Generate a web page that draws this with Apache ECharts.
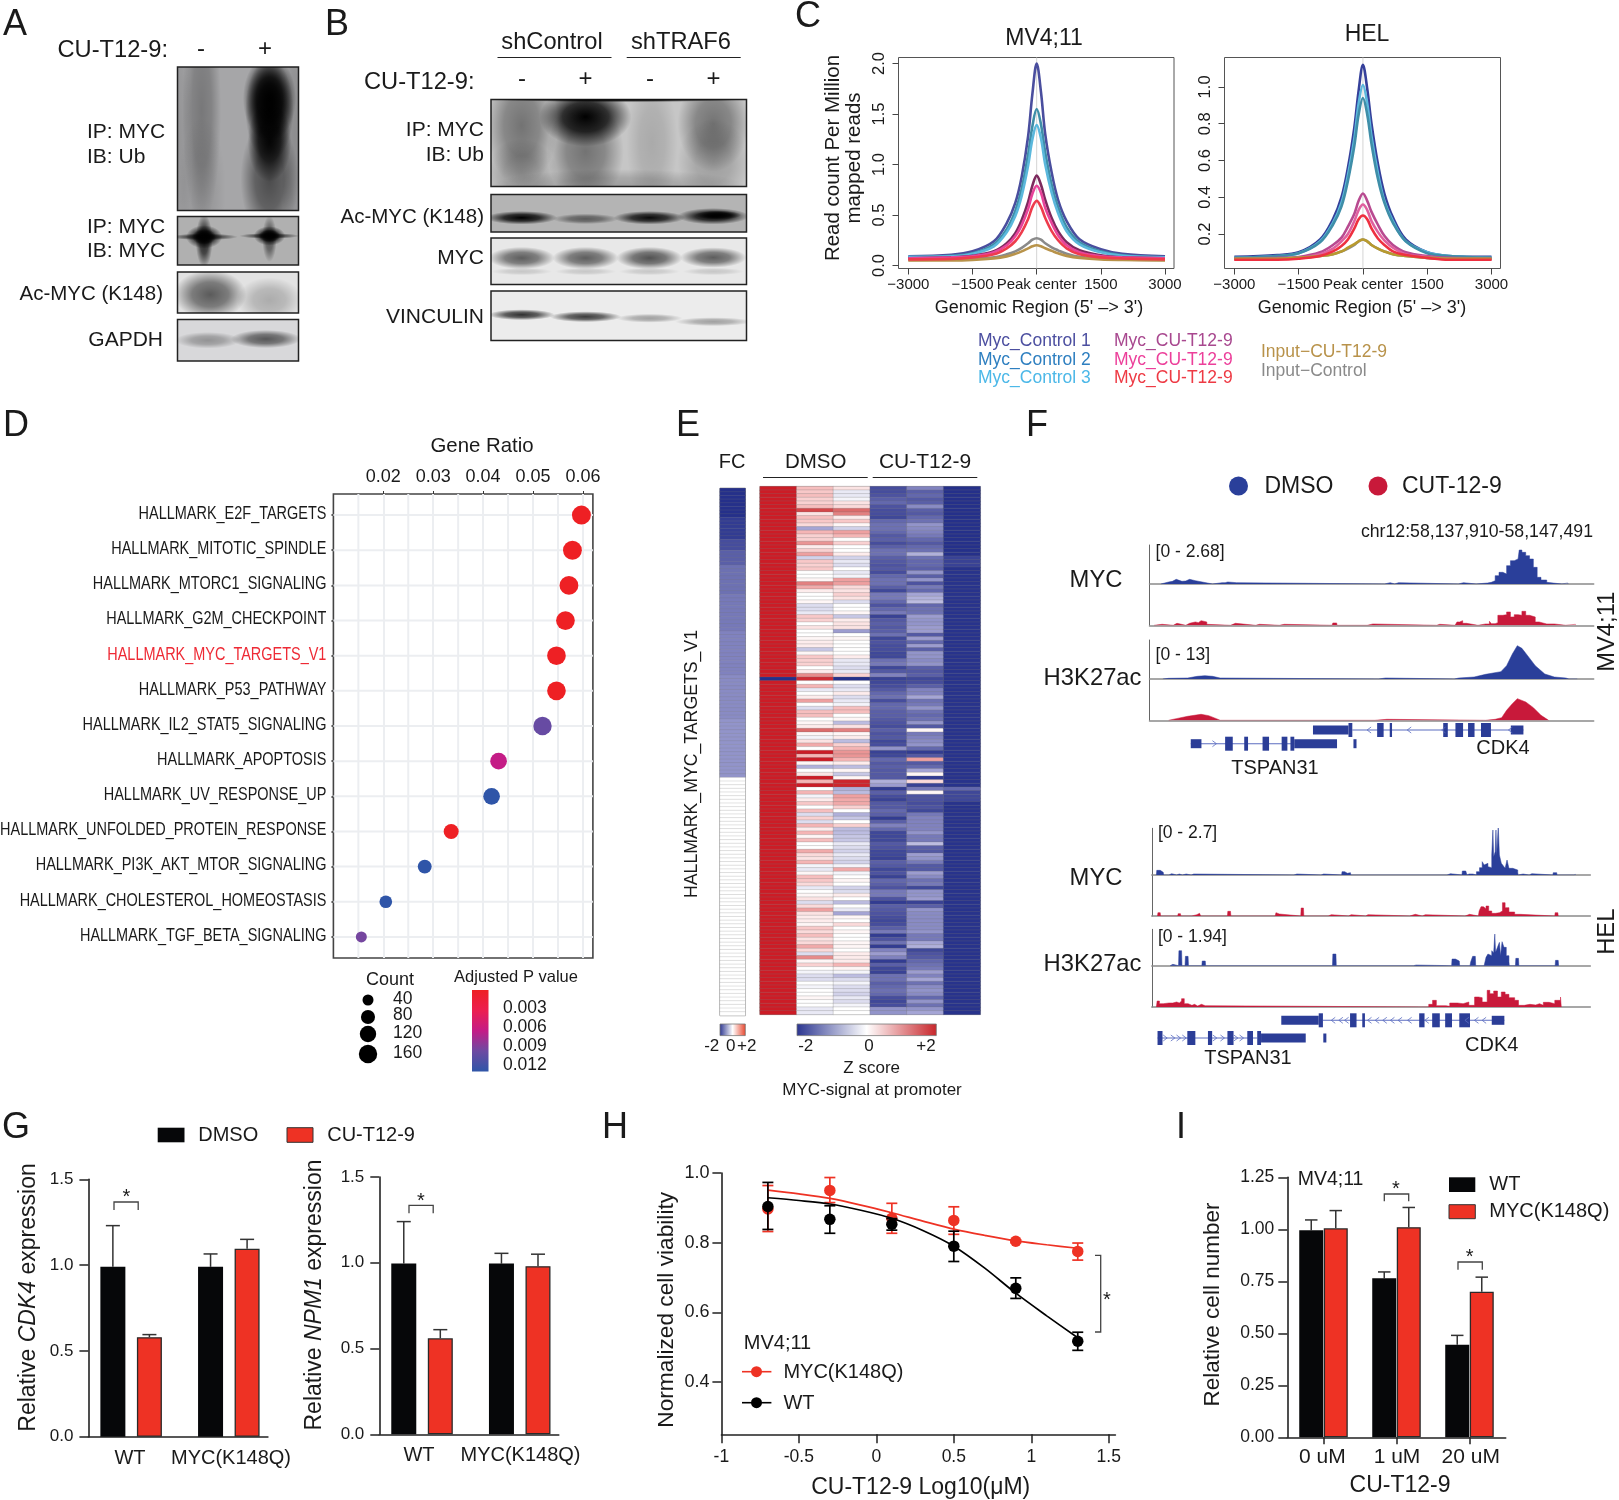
<!DOCTYPE html>
<html><head><meta charset="utf-8">
<style>html,body{margin:0;padding:0;background:#fff}#c{width:1619px;height:1500px}</style>
<script src="https://cdn.jsdelivr.net/npm/echarts@6/dist/echarts.min.js"></script>
</head><body><div id="c"></div>
<script>
/* ---------- data ---------- */
// A / B blots: band = [laneCentre, yCentre, rx, ry, darkness] (fractions of blot)
const blotA1=[[.2,.3,.16,.8,.28],[.2,.85,.2,.5,.1],[.76,.22,.22,.3,1],[.76,.3,.2,.36,1],[.76,.52,.18,.28,.9],[.76,.78,.24,.42,.55],[.97,.5,.12,.9,.15],[.02,.5,.1,.9,.1]];
const blotA2=[[.22,.42,.28,.07,.75],[.22,.5,.07,.55,.8],[.22,.42,.15,.24,1],[.22,.42,.1,.16,1],[.76,.4,.25,.06,.7],[.76,.46,.06,.48,.55],[.76,.4,.13,.2,1],[.76,.4,.09,.13,1]];
const blotA3=[[.27,.55,.3,.6,.6],[.76,.68,.27,.55,.24]];
const blotA4=[[.25,.5,.27,.2,.32],[.73,.47,.29,.22,.6]];
const blotB1=[[.12,.3,.14,.7,.42],[.37,.2,.18,.34,1],[.37,.6,.15,.6,.42],[.63,.5,.1,.8,.14],[.87,.28,.14,.55,.42],[.87,.72,.14,.5,.2],[.12,.85,.14,.4,.22],[.5,1,.5,.2,.2],[.5,0,.5,.03,1]];
const blotB2=[[.12,.62,.14,.18,1],[.37,.65,.13,.14,.5],[.62,.62,.14,.18,.95],[.87,.58,.14,.22,1],[.89,.55,.09,.12,1]];
const blotB3=[[.12,.43,.13,.24,.6],[.37,.43,.13,.24,.6],[.62,.43,.13,.24,.65],[.87,.42,.13,.22,.6],[.12,.72,.12,.08,.14],[.37,.72,.12,.08,.14],[.62,.72,.12,.08,.14],[.87,.72,.12,.08,.14]];
const blotB4=[[.12,.48,.13,.11,.8],[.37,.52,.14,.11,.75],[.62,.55,.13,.09,.32],[.87,.62,.15,.09,.32]];

// C: read-count profiles
const profileX=[-3000,-2000,-1500,-1000,-700,-500,-350,-200,-100,0,100,200,350,500,700,1000,1500,2000,3000];
const mvCtrl1=[.09,.105,.14,.24,.42,.62,.88,1.28,1.7,2.0,1.72,1.3,.92,.65,.44,.26,.16,.115,.09];
const mvCtrl2=[.08,.095,.12,.21,.36,.54,.76,1.1,1.38,1.55,1.4,1.12,.8,.58,.38,.23,.14,.1,.08];
const mvCtrl3=[.085,.09,.115,.19,.33,.49,.69,.99,1.25,1.39,1.26,1.0,.72,.52,.34,.21,.13,.095,.08];
const mvCu1=[.07,.08,.095,.14,.22,.32,.45,.63,.79,.89,.8,.65,.47,.34,.23,.15,.1,.08,.07];
const mvCu2=[.07,.08,.09,.13,.2,.29,.4,.56,.71,.79,.72,.57,.42,.3,.2,.13,.09,.08,.07];
const mvCu3=[.06,.065,.08,.11,.17,.24,.33,.46,.58,.64,.58,.47,.34,.25,.17,.11,.08,.07,.06];
const mvInC=[.055,.06,.065,.08,.11,.14,.175,.22,.255,.27,.255,.22,.18,.15,.115,.085,.07,.06,.055];
const mvInCu=[.05,.05,.055,.07,.09,.115,.14,.17,.19,.2,.19,.17,.145,.12,.095,.075,.06,.055,.05];
const helCtrl1=[.075,.085,.1,.17,.28,.4,.56,.78,.98,1.12,.99,.8,.58,.42,.29,.17,.1,.08,.075];
const helCtrl2=[.07,.08,.095,.155,.25,.35,.49,.68,.85,.94,.85,.69,.5,.37,.26,.16,.095,.08,.07];
const helCtrl3=[.07,.08,.095,.16,.26,.37,.52,.72,.91,1.01,.91,.73,.53,.38,.27,.16,.1,.08,.07];
const helCu1=[.065,.07,.075,.1,.14,.18,.24,.31,.38,.42,.38,.32,.25,.19,.14,.1,.08,.07,.065];
const helCu2=[.06,.065,.07,.09,.12,.16,.2,.27,.33,.36,.33,.27,.21,.165,.125,.09,.075,.065,.06];
const helCu3=[.06,.06,.065,.08,.105,.135,.17,.23,.28,.30,.28,.23,.175,.14,.105,.085,.07,.06,.06];
const helInC=[.065,.065,.07,.08,.09,.105,.12,.14,.16,.17,.16,.14,.12,.105,.09,.08,.07,.065,.065];
const helInCu=[.065,.065,.07,.08,.09,.105,.125,.145,.16,.17,.16,.14,.12,.105,.09,.08,.07,.065,.065];

// D: gene-set dot plot
const hallmarks=['HALLMARK_E2F_TARGETS','HALLMARK_MITOTIC_SPINDLE','HALLMARK_MTORC1_SIGNALING','HALLMARK_G2M_CHECKPOINT','HALLMARK_MYC_TARGETS_V1','HALLMARK_P53_PATHWAY','HALLMARK_IL2_STAT5_SIGNALING','HALLMARK_APOPTOSIS','HALLMARK_UV_RESPONSE_UP','HALLMARK_UNFOLDED_PROTEIN_RESPONSE','HALLMARK_PI3K_AKT_MTOR_SIGNALING','HALLMARK_CHOLESTEROL_HOMEOSTASIS','HALLMARK_TGF_BETA_SIGNALING'];
const geneRatio=[.0597,.0579,.0572,.0565,.0547,.0547,.0519,.0431,.0417,.0336,.0283,.0205,.0156];
const geneCount=[172,170,168,166,165,165,160,125,125,95,78,60,40];
const adjP=[.001,.001,.001,.001,.001,.001,.0095,.0065,.012,.001,.012,.012,.009];
const ratioMinorLines=[.015,.025,.035,.045,.055];

// E: heat map (z score) rows top to bottom; runs = [value, rows]
const fcRuns=[[-2.4,8],[-2.2,6],[-1.9,3],[-1.6,4],[-1.4,8],[-1.3,10],[-1.2,12],[-1.1,12],[-1,16],[0,65]];
const dmso1Runs=[[2.4,52],[-2.4,1],[2.4,91]];
const dmso2=[.7,.6,.7,.5,.5,.7,1.9,.3,.7,.6,.4,-.8,.8,.5,.5,1.1,.2,.5,1.0,-.4,.6,.5,.6,0,0,.1,1.3,.9,.2,0,0,.1,-.3,-.3,-.2,.6,.5,0,.3,0,0,.1,.2,.2,-.5,.1,.6,.5,.5,
0,.2,1.2,2.2,0,.8,-.2,0,.2,1.0,0,-.3,.7,.7,0,.1,.2,1.5,.1,-.1,.3,.9,0,2.4,.8,2.4,.1,-.7,0,.3,2.4,.8,2.4,0,.8,-.1,.2,.6,0,.7,-.3,.5,-.3,.8,.2,.8,.1,.7,
0,0,.9,.4,.3,.8,-.1,-.2,.1,.7,.6,.4,-.2,0,.1,.3,-.3,.4,1,.3,.2,.2,.1,.6,.4,.7,.3,.4,.9,.4,-.3,1.2,.1,.5,0,-.1,-.3,-.3,0,-.1,0,0,.1,0,0,-.2,-.2];
const dmso3=[.3,-.2,-.2,-.1,.3,.4,1.5,1.3,.2,.6,.1,-.4,1.0,.8,0,.5,0,0,.2,-.4,-.2,-.3,0,-.2,-.1,1.0,1.0,.4,.3,.5,.3,-.3,0,0,.1,-.5,.2,.3,.3,-.9,0,.1,0,0,0,0,.2,-.2,-.2,
-.3,-.2,.5,-2.4,0,-.3,-.2,.2,-.3,-.2,-.1,.7,.7,0,.1,-.6,.3,1.3,.1,.2,-.6,.5,.8,1.1,1.1,.8,.2,-.6,.1,-.5,.1,2.3,2.3,-.7,-.6,1,.9,.9,.5,0,-.7,-.5,0,.5,-.6,-.6,-.5,-.5,
-.2,-.3,-.4,-.2,-.3,-.4,-.1,.9,-.1,0,.1,0,-.4,-.3,.2,0,-.6,0,-.2,-.8,.1,0,.4,0,.1,0,0,.1,.1,0,.2,.2,.2,.8,.1,-.1,-.6,-.3,-.1,-.3,-.3,-.4,-.2,-.3,-.1,0,0];
const cu1=[-1.9,-1.9,-1.8,-1.6,-1.5,-1.8,-1.9,-1.9,-2,-1.5,-1.4,-1.4,-1.5,-1.7,-1.6,-1.9,-1.6,-1.4,-1.4,-1.6,-1.7,-1.8,-1.7,-1.9,-1.5,-1.4,-1.4,-1.6,-2,-1.3,-1.3,-1.5,-1.8,-1.5,-1.3,-2.1,-1.7,-1.6,-1.7,-1.6,-1.4,-2,-1.8,-1.9,-1.9,-2,-2,-1.4,-1.3,
-2,-1.7,-1.2,-2.1,-2,-1.9,-1.7,-1.5,-1.4,-1.9,-1.5,-1.5,-1.6,-1.6,-1.7,-1.8,-1.9,-1.6,-1.8,-1.7,-2,-1.9,-1,-2.1,-2,-1.5,-1.7,-1.6,-1.7,-1.7,-1.7,-.7,-.9,-2.2,-1.6,-1.9,-2.1,-1.7,-1.7,-1.5,-1.6,-2.2,-1.6,-1.2,-1.5,-2,-2,-2,
-1.7,-1.8,-2,-2,-2.1,-1.6,-1.7,-2,-1.8,-2.1,-1.5,-1.6,-1.8,-1.3,-1.3,-1.8,-2.2,-1.6,-1.7,-1.8,-1.9,-2,-1.9,-1.6,-1.3,-2.2,-1.8,-1.4,-2.2,-1.2,-.9,-1.2,-2.2,-1.6,-2,-2.1,-1.4,-1.4,-1.6,-1.5,-1.4,-1.5,-1.9,-2,-1.9,-1,-1];
const cu2=[-1.2,-1.6,-1.5,-1.7,-1.6,-1.1,-1.6,-1.7,-1.5,-1.4,-1,-1.1,-1.2,-1.3,-1.5,-1.7,-1.5,-1.4,-.7,-1.4,-1.5,-1.5,-1.6,-1,-1.6,-1,-1.8,-1.3,-1.5,-.8,-.7,-.6,-1.5,-1.4,-1.4,-.9,-1,-1,-.9,-.9,-1.7,-.9,-1.5,-.9,-1.6,-1,-1,-1.1,-1,
-1.6,-1.7,-1.6,-2,-1.9,-1.6,-1.2,-1.2,-.8,-1.4,-1.3,-1,-1.4,-1.5,-1.4,-1,-1.7,.1,-1.3,-1.2,-1.1,-1,-1.5,-2.2,-1.7,1,-1.7,-1.5,-.8,.1,-2.2,.4,-2.1,-1.3,.1,-1.8,-1.8,-1.9,-1.8,-2,-1.3,-1.2,-1.2,-1.2,-1.2,-1,-1.3,-1.3,
-.6,-1.6,-1.7,-.9,-1,-1.3,-1.7,-1.7,-.9,-1.1,-1.4,-1.3,-2,-1,-1,-.9,-2.1,-1.6,-1,-1.1,-1.1,-1.1,-1.1,-1.1,-1,-1.3,-1.3,-.8,-.7,-2,-1.8,-1.7,-1.5,-1.4,-1.3,-.9,-1.2,-.8,-1.4,-1.1,-1,-1.1,-1.5,-1,-1.4,-1,-.8];
const cu3Runs=[[-2.4,19],[-2.1,3],[-2.35,60],[-1.5,1],[-2.0,3],[-2.35,58]];

// F: browser tracks, [bin, signal] (MV4;11 bins span 0..1163, HEL 0..1148)
const mvMycDmso=[[30,0],[32,6],[50,8],[60,14],[70,8],[85,9],[95,14],[105,10],[120,6],[138,4],[139,0],[165,0],[166,4],[190,4],[198,6],[205,4],[228,4],[229,0],[616,0],[617,4],[630,4],[631,0],[642,0],[643,4],[652,4],[653,0],[809,0],[810,4],[822,4],[823,0],[855,0],[856,3],[885,5],[895,10],[905,25],[915,35],[925,30],[935,55],[945,70],[955,75],[965,70],[968,102],[975,95],[985,85],[995,75],[1005,50],[1015,20],[1025,12],[1040,5],[1041,0],[1080,0],[1081,3],[1095,3],[1096,0]];
const mvMycCu=[[12,0],[13,3],[33,3],[34,0],[62,0],[65,6],[72,4],[73,0],[95,0],[97,6],[105,5],[110,10],[120,8],[128,14],[135,10],[150,3],[151,0],[212,0],[214,6],[225,4],[226,0],[278,0],[279,3],[288,0],[340,0],[341,3],[353,0],[478,0],[480,7],[490,5],[491,0],[570,0],[572,4],[585,0],[752,0],[753,3],[760,0],[800,0],[805,10],[812,14],[820,6],[830,8],[835,0],[860,0],[862,4],[880,4],[890,12],[895,5],[905,8],[912,30],[925,32],[935,40],[945,25],[955,32],[965,30],[975,42],[985,30],[995,25],[1010,10],[1020,4],[1040,4],[1060,6],[1061,0],[1090,0],[1091,3],[1115,3],[1116,0]];
const mvAcDmso=[[35,0],[50,2],[100,3],[125,8],[145,10],[165,8],[185,3],[190,0],[600,0],[601,3],[618,3],[619,0],[798,0],[810,3],[850,6],[880,14],[920,22],[935,40],[950,75],[963,100],[975,92],[990,70],[1010,40],[1035,15],[1060,6],[1090,3],[1098,0],[1115,0],[1116,3],[1120,0]];
const mvAcCu=[[50,0],[70,5],[100,12],[135,18],[155,14],[175,5],[185,0],[590,0],[592,3],[622,3],[624,0],[880,0],[905,3],[922,8],[935,30],[950,50],[963,65],[985,55],[1005,38],[1025,15],[1045,0]];
const helMycDmso=[[12,0],[13,14],[22,8],[30,5],[31,0],[45,0],[46,4],[52,0],[65,0],[66,3],[72,0],[80,0],[81,3],[90,0],[103,0],[104,3],[110,0],[372,0],[373,3],[380,0],[443,0],[444,3],[450,0],[497,0],[498,10],[505,10],[506,5],[512,5],[513,7],[520,5],[521,0],[700,0],[701,2],[705,0],[773,0],[774,4],[782,0],[812,0],[813,12],[822,8],[825,0],[830,0],[831,3],[840,0],[843,0],[850,10],[858,22],[865,40],[870,30],[875,35],[880,25],[885,22],[890,60],[893,135],[895,55],[899,70],[901,135],[903,60],[907,148],[910,60],[915,35],[920,28],[925,20],[930,45],[935,20],[945,15],[958,8],[959,0],[962,0],[963,3],[972,0],[988,0],[989,4],[995,0],[1050,0],[1051,7],[1060,4],[1061,0],[1105,0],[1106,2],[1110,0]];
const helMycCu=[[15,0],[16,10],[22,8],[23,0],[68,0],[69,7],[75,5],[76,0],[105,0],[110,4],[118,8],[125,4],[128,0],[198,0],[199,14],[206,14],[207,0],[323,0],[325,10],[330,6],[334,0],[390,0],[391,24],[397,24],[398,0],[462,0],[463,4],[470,0],[515,0],[516,4],[522,0],[560,0],[561,4],[566,0],[675,0],[676,5],[690,3],[692,0],[708,0],[709,4],[716,0],[820,0],[821,5],[832,0],[855,0],[857,15],[862,28],[868,22],[875,30],[882,15],[890,8],[900,10],[910,15],[918,40],[925,25],[935,12],[950,5],[965,3],[966,0],[1055,0],[1056,10],[1063,8],[1064,0]];
const helAcDmso=[[48,0],[49,4],[55,0],[70,0],[71,45],[78,45],[79,0],[87,0],[88,28],[95,28],[96,0],[131,0],[132,14],[140,14],[141,0],[473,0],[474,35],[482,35],[483,0],[685,0],[686,2],[692,0],[785,0],[786,20],[795,20],[797,14],[805,8],[806,0],[833,0],[835,12],[840,28],[847,28],[848,0],[870,0],[875,25],[880,35],[885,30],[890,45],[895,38],[898,95],[900,40],[905,55],[910,70],[913,30],[917,72],[922,55],[928,30],[935,12],[936,0],[952,0],[953,22],[960,22],[961,0],[1056,0],[1057,16],[1064,16],[1065,0]];
const helAcCu=[[12,0],[14,18],[20,10],[30,12],[45,12],[55,15],[65,12],[72,18],[78,25],[85,10],[95,5],[105,8],[112,3],[120,8],[130,4],[140,6],[141,0],[710,0],[725,8],[735,20],[745,4],[770,2],[780,12],[800,10],[815,15],[830,5],[845,30],[855,28],[865,15],[878,50],[885,40],[895,48],[905,30],[915,45],[925,38],[935,28],[950,20],[960,5],[975,8],[990,6],[1005,10],[1015,5],[1025,14],[1040,10],[1055,20],[1070,30],[1072,0]];
// gene models: [start, end, row(0 CDK4 / 1 TSPAN31), kind(0 coding,1 UTR,2 intron)]
const mvGenes=[[531,979,0,2],[428,521,0,1],[521,531,0,0],[596,613,0,0],[629,635,0,0],[769,781,0,0],[801,821,0,0],[834,851,0,0],[868,894,0,0],[946,979,0,1],[108,379,1,2],[108,136,1,1],[198,218,1,0],[248,258,1,0],[296,313,1,0],[346,361,1,0],[369,379,1,0],[379,491,1,1],[534,542,1,1]];
const helGenes=[[448,923,0,2],[339,437,0,1],[437,448,0,0],[519,536,0,0],[551,558,0,0],[700,714,0,0],[734,754,0,0],[768,786,0,0],[805,833,0,0],[890,923,0,1],[15,276,1,2],[15,28,1,0],[93,114,1,0],[147,158,1,0],[198,214,1,0],[250,265,1,0],[276,286,1,0],[286,403,1,1],[449,457,1,1]];
const mvChev=[[575,0,-1],[680,0,-1],[770,0,-1],[945,0,-1],[170,1,1]];
const helChev=[[475,0,-1],[495,0,-1],[510,0,-1],[570,0,-1],[590,0,-1],[610,0,-1],[630,0,-1],[650,0,-1],[675,0,-1],[720,0,-1],[825,0,-1],[850,0,-1],[870,0,-1],[35,1,1],[55,1,1],[70,1,1],[85,1,1],[165,1,1],[185,1,1],[220,1,1],[235,1,1]];

// G
const gGroups=['WT','MYC(K148Q)'];
const cdk4Dmso=[.99,.99],cdk4Cu=[.58,1.095],cdk4DmsoHi=[1.23,1.065],cdk4CuHi=[.595,1.15];
const npm1Dmso=[.995,.995],npm1Cu=[.56,.98],npm1DmsoHi=[1.24,1.055],npm1CuHi=[.61,1.05];
// H
const doseX=[-.7,-.3,.1,.5,.9,1.3];
const wtMean=[.904,.867,.853,.79,.669,.517],wtHi=[.973,.906,.869,.833,.699,.543],wtLo=[.838,.827,.836,.746,.64,.491];
const kqMean=[.897,.95,.87,.864,.804,.775],kqHi=[.964,.987,.913,.903,.808,.799],kqLo=[.832,.915,.827,.824,.8,.75];
const fitX=[-.7,-.5,-.3,-.1,.1,.3,.5,.7,.9,1.1,1.3];
const wtFit=[.929,.921,.911,.893,.87,.835,.79,.727,.655,.59,.527];
const kqFit=[.951,.94,.927,.908,.886,.862,.839,.821,.805,.794,.784];
// I
const iGroups=['0 uM','1 uM','20 uM'];
const iWt=[.995,.765,.445],iWtHi=[1.045,.795,.49],iKq=[1.005,1.01,.70],iKqHi=[1.09,1.105,.77];

/* ---------- helpers ---------- */
const FONT='"Liberation Sans",Arial,sans-serif';
const grids=[],xAxes=[],yAxes=[],series=[],gfx=[];
const RED='#ee3224',BLK='#060709',INK='#222';
function addGrid(g,x,y){const i=grids.length;grids.push(Object.assign({containLabel:false,outerBoundsMode:'none'},g));
  xAxes.push(Object.assign({gridIndex:i,type:'value',axisLine:{onZero:false}},x));
  yAxes.push(Object.assign({gridIndex:i,type:'value',axisLine:{onZero:false}},y));return i;}
function txt(t,x,y,o={}){const st={text:t,x:0,y:0,fill:o.color||'#1a1a1a',font:`${o.italic?'italic ':''}${o.size||18}px ${o.family||FONT}`,
    textAlign:o.align||'left',align:o.align||'left',textVerticalAlign:'middle',verticalAlign:'middle'};
  if(o.rich)st.rich=o.rich;
  const off=o.rot?0:1.5;
  gfx.push({type:'text',x:x+(o.rot?1:0),y:y+off,rotation:o.rot?Math.PI/2:0,z:100,silent:true,style:st});}
function rect(x,y,w,h,fill,o={}){gfx.push({type:'rect',z:90,silent:true,shape:{x,y,width:w,height:h},style:{fill,stroke:o.stroke,lineWidth:o.lw||0}});}
function poly(pts,color='#444',lw=1.3){gfx.push({type:'polyline',z:90,silent:true,shape:{points:pts},style:{stroke:color,lineWidth:lw,fill:null}});}
function dot(cx,cy,r,fill){gfx.push({type:'circle',z:95,silent:true,shape:{cx,cy,r},style:{fill}});}
function bracket(x0,x1,top,bot,sx,sy){poly([[x0,bot],[x0,top],[x1,top],[x1,bot]]);txt('*',sx,sy+3,{align:'center',size:20});}

function blot(x0,y0,x1,y1,bg,bands){const i=addGrid({left:x0,top:y0,width:x1-x0,height:y1-y0,show:true,backgroundColor:bg,borderColor:'#222',borderWidth:1.5},
   {show:false,min:0,max:1},{show:false,min:0,max:1,inverse:true});
 series.push({type:'custom',xAxisIndex:i,yAxisIndex:i,clip:true,silent:true,data:bands,renderItem(p,api){
   const c=api.coord([api.value(0),api.value(1)]),s=api.size([api.value(2),api.value(3)]),d=api.value(4);
   return {type:'circle',x:c[0],y:c[1],scaleX:s[0]/100,scaleY:s[1]/100,shape:{cx:0,cy:0,r:100},style:{fill:new echarts.graphic.RadialGradient(.5,.5,.5,[{offset:0,color:`rgba(0,0,0,${d})`},{offset:.5,color:`rgba(0,0,0,${d*.75})`},{offset:1,color:'rgba(0,0,0,0)'}])}};}});}

function errSeries(i,data,color,cap,lw,z){series.push({type:'custom',xAxisIndex:i,yAxisIndex:i,silent:true,z,data,clip:false,renderItem(p,api){
   const a=api.coord([api.value(0),api.value(1)]),b=api.coord([api.value(0),api.value(2)]);const st={stroke:color,lineWidth:lw};
   const ch=[{type:'line',shape:{x1:a[0],y1:a[1],x2:b[0],y2:b[1]},style:st},{type:'line',shape:{x1:a[0]-cap/2,y1:b[1],x2:a[0]+cap/2,y2:b[1]},style:st}];
   if(api.value(3)) {const c=api.coord([api.value(0),api.value(3)]);ch.push({type:'line',shape:{x1:a[0],y1:a[1],x2:c[0],y2:c[1]},style:st},{type:'line',shape:{x1:a[0]-cap/2,y1:c[1],x2:a[0]+cap/2,y2:c[1]},style:st});}
   return {type:'group',children:ch};}});}

const axisL={show:true,onZero:false,lineStyle:{color:'#222',width:1.6}};
function barPanel(left,right,base,top,xMin,xMax,yMax,interval,labelFmt,groups,sets,off,bw,cap,lsize,lm){
  const i=addGrid({left,top,width:right-left,height:base-top},
   {min:xMin,max:xMax,splitLine:{show:false},axisLine:axisL,axisTick:{show:false},axisLabel:{show:false}},
   {min:0,max:yMax,interval,splitLine:{show:false},axisLine:axisL,axisTick:{length:9,lineStyle:{color:'#222',width:1.5}},axisLabel:{color:'#1a1a1a',fontFamily:FONT,fontSize:lsize,margin:lm,formatter:labelFmt}});
  sets.forEach((s,k)=>{const dx=k?off:-off;
    errSeries(i,s.val.map((v,g)=>[g+dx,v,s.hi[g]]),'#333',cap,1.5,1);
    series.push({type:'bar',xAxisIndex:i,yAxisIndex:i,barWidth:bw,barGap:'-100%',z:2,silent:true,
      itemStyle:{color:s.color,borderColor:k?'#2a2a2a':s.color,borderWidth:k?1.3:0},data:s.val.map((v,g)=>[g+dx,v])});});
  return i;}

/* ---------- panel letters ---------- */
[['A',3,24],['B',325,24],['C',795,16],['D',3,425],['E',676,425],['F',1026,425],['G',2,1127],['H',602,1127],['I',1176,1127]].forEach(a=>txt(a[0],a[1],a[2],{size:36}));

/* ---------- A ---------- */
txt('CU-T12-9:',168,49,{align:'right',size:23.7});txt('-',201,48,{align:'center',size:24});txt('+',265,48,{align:'center',size:24});
blot(177.5,67,298.5,210.5,'#a6a6a8',blotA1);blot(177.5,216.5,298.5,265,'#b0b0b0',blotA2);blot(177.5,272,298.5,313,'#e2e2e2',blotA3);blot(177.5,319.5,298.5,361,'#d8d8da',blotA4);
txt('IP: MYC',87,131,{size:21});txt('IB: Ub',87,156,{size:21});txt('IP: MYC',87,226,{size:21});txt('IB: MYC',87,250,{size:21});
txt('Ac-MYC (K148)',163,293,{align:'right',size:20.5});txt('GAPDH',163,339,{align:'right',size:21});

/* ---------- B ---------- */
txt('shControl',552,41,{align:'center',size:23.7});txt('shTRAF6',681,41,{align:'center',size:23.7});
poly([[497.5,57.5],[611.5,57.5]],'#222',1.2);poly([[626.7,57.5],[740.7,57.5]],'#222',1.2);
txt('CU-T12-9:',474.5,81,{align:'right',size:23.7});
[['-',522],['+',585.5],['-',650],['+',713.6]].forEach(a=>txt(a[0],a[1],78,{align:'center',size:24}));
blot(491,99.5,746.5,186.5,'#c6c6c6',blotB1);blot(491,194.5,746.5,232,'#b4b4b4',blotB2);blot(491,238,746.5,284.5,'#e8e8e8',blotB3);blot(491,291,746.5,340.5,'#ececec',blotB4);
txt('IP: MYC',484,129,{align:'right',size:21});txt('IB: Ub',484,154,{align:'right',size:21});
txt('Ac-MYC (K148)',484,216,{align:'right',size:20.5});txt('MYC',484,257,{align:'right',size:21});txt('VINCULIN',484,316,{align:'right',size:21});

/* ---------- C ---------- */
const profCols=['#4a4e9e','#3f8ea8','#5bb8dc','#7d2a5e','#e8449a','#ee3c4c','#8a8a8a','#b8934a'];
function profile(left,right,yMin,yMax,ticks,lines){
  const i=addGrid({left,top:57.5,width:right-left,height:211,show:true,borderColor:'#555',borderWidth:1},
   {min:-3230,max:3210,splitLine:{show:false},axisLine:{show:false,onZero:false},axisTick:{show:true,length:6,customValues:[-3000,-1500,0,1500,3000],lineStyle:{color:'#444'}},
    axisLabel:{customValues:[-3000,-1500,0,1500,3000],color:'#1a1a1a',fontFamily:FONT,fontSize:15,margin:9,formatter:v=>v===0?'Peak center':(v<0?'\u2212'+(-v):''+v)}},
   {min:yMin,max:yMax,splitLine:{show:false},axisLine:{show:false,onZero:false},axisTick:{show:true,length:6,customValues:ticks,lineStyle:{color:'#444'}},
    axisLabel:{customValues:ticks,rotate:90,color:'#1a1a1a',fontFamily:FONT,fontSize:16.5,margin:11,formatter:v=>v.toFixed(1)}});
  series.push({type:'line',xAxisIndex:i,yAxisIndex:i,silent:true,symbol:'none',lineStyle:{color:'#d4d4d4',width:1},data:[[0,yMin],[0,yMax]]});
  lines.forEach((vals,k)=>series.push({type:'line',xAxisIndex:i,yAxisIndex:i,silent:true,symbol:'none',smooth:.35,lineStyle:{color:vals[1],width:2.6},data:profileX.map((x,j)=>[x,vals[0][j]])}));
}
profile(898.5,1174,-.03,2.06,[0,.5,1,1.5,2],[[mvCtrl1,profCols[0]],[mvCtrl2,profCols[1]],[mvCtrl3,profCols[2]],[mvInC,profCols[6]],[mvInCu,profCols[7]],[mvCu1,profCols[3]],[mvCu2,profCols[4]],[mvCu3,profCols[5]]]);
profile(1224.5,1500.5,.012,1.16,[.2,.4,.6,.8,1],[[helCtrl1,'#35409a'],[helCtrl3,profCols[2]],[helCtrl2,profCols[1]],[helCu1,'#b84a90'],[helCu2,'#e0609f'],[helInC,profCols[6]],[helInCu,'#b89a2e'],[helCu3,'#ee3040']]);
txt('MV4;11',1044,37,{align:'center',size:23});txt('HEL',1367,33,{align:'center',size:23});
txt('Read count Per Million',832,158,{align:'center',size:20.5,rot:1});txt('mapped reads',853,158,{align:'center',size:20.5,rot:1});
txt("Genomic Region (5' \u2013> 3')",1039,307,{align:'center',size:18});txt("Genomic Region (5' \u2013> 3')",1362,307,{align:'center',size:18});
[['Myc_Control 1',978,340,'#4c4fa0'],['Myc_Control 2',978,359,'#2e7fc0'],['Myc_Control 3',978,377,'#4cb8e8'],['Myc_CU-T12-9',1114,340,'#a8488f'],['Myc_CU-T12-9',1114,359,'#ec3f9a'],['Myc_CU-T12-9',1114,377,'#ee3a44'],['Input\u2212CU-T12-9',1261,351,'#b8924a'],['Input\u2212Control',1261,370,'#8a8a8a']].forEach(a=>txt(a[0],a[1],a[2],{size:17.5,color:a[3]}));

/* ---------- D ---------- */
const padjStops=['#ee2024','#e81d4a','#c41c86','#6d4aa2','#2f55a8'];
const rowIdx=hallmarks.map((_,i)=>i);
const dI=addGrid({left:333.4,top:494,width:259.5,height:464,show:true,borderColor:'#444',borderWidth:1.6},
 {position:'top',min:.01,max:.062,interval:.005,splitLine:{show:true,lineStyle:{color:'#eceef1',width:2}},axisLine:{show:false,onZero:false},
  axisTick:{show:true,length:3,customValues:[.02,.03,.04,.05,.06],lineStyle:{color:'#333'}},
  axisLabel:{customValues:[.02,.03,.04,.05,.06],color:'#1a1a1a',fontFamily:FONT,fontSize:18,margin:8,formatter:v=>v.toFixed(2)}},
 {inverse:true,min:-.6,max:12.6,splitLine:{show:false},axisLine:{show:false,onZero:false},axisTick:{show:true,length:2,customValues:rowIdx,lineStyle:{color:'#333',width:1.5}},axisLabel:{show:false}});
rowIdx.forEach(r=>series.push({type:'line',xAxisIndex:dI,yAxisIndex:dI,silent:true,symbol:'none',lineStyle:{color:'#eceef1',width:2},data:[[.01,r],[.062,r]]}));
ratioMinorLines.forEach(x=>series.push({type:'line',xAxisIndex:dI,yAxisIndex:dI,silent:true,symbol:'none',lineStyle:{color:'#eceef1',width:2},data:[[x,-.6],[x,12.6]]}));
// row names: condensed real text placed through the axis scale
series.push({type:'custom',xAxisIndex:dI,yAxisIndex:dI,silent:true,clip:false,data:rowIdx.map(r=>[.01,r]),renderItem(p,api){
  const r=api.value(1),c=api.coord([api.value(0),r]),n=hallmarks[r];
  return {type:'text',x:c[0]-7,y:c[1]-1,scaleX:.822,style:{text:n,fill:n==='HALLMARK_MYC_TARGETS_V1'?'#ee2a35':'#1a1a1a',font:`17.6px ${FONT}`,textAlign:'right',align:'right',textVerticalAlign:'middle',verticalAlign:'middle'}};}});
const countSize=c=>3.6+1.17*Math.sqrt(c);
series.push({type:'scatter',xAxisIndex:dI,yAxisIndex:dI,z:5,silent:true,symbolSize:v=>countSize(v[2]),
  itemStyle:{opacity:1,color:p=>echarts.color.lerp((p.data[3]-.001)/.011,padjStops)},
  data:geneRatio.map((g,i)=>[g,i,geneCount[i],adjP[i]])});
txt('Gene Ratio',482,445,{align:'center',size:20.4});
txt('Count',390,979,{align:'center',size:18});
[[40,1000,998],[80,1017,1014],[120,1034,1032],[160,1054,1052]].forEach(a=>{dot(368,a[1],countSize(a[0])/2,'#000');txt(''+a[0],393,a[2],{size:17.5});});
txt('Adjusted P value',516,976,{align:'center',size:16.5});
rect(472,990,16.5,81.5,new echarts.graphic.LinearGradient(0,0,0,1,[{offset:0,color:'#ee2024'},{offset:.25,color:'#ec1f50'},{offset:.5,color:'#c41c86'},{offset:.75,color:'#6d4aa2'},{offset:1,color:'#2f55a8'}]));
[['0.003',1007],['0.006',1026],['0.009',1045],['0.012',1064]].forEach(a=>txt(a[0],503,a[1],{size:17.5}));

/* ---------- E ---------- */
const expand=runs=>{const o=[];runs.forEach(r=>{for(let k=0;k<r[1];k++)o.push(r[0]);});return o;};
const heatCols=[expand(dmso1Runs),dmso2,dmso3,cu1,cu2,expand(cu3Runs)];
const rowsN=144,colIdx=[0,1,2,3,4,5],rowNames=Array.from({length:rowsN},(_,i)=>i);
const heatAxisX=c=>({type:'category',data:c,show:false}),heatAxisY={type:'category',data:rowNames,show:false,inverse:true};
const hI=addGrid({left:760,top:486.5,width:220.3,height:528,show:true,borderColor:'#999',borderWidth:1},heatAxisX(colIdx),heatAxisY);
const hData=[];heatCols.forEach((c,x)=>c.forEach((v,y)=>{if(y<rowsN)hData.push([x,y,v]);}));
series.push({type:'heatmap',xAxisIndex:hI,yAxisIndex:hI,silent:true,progressive:0,itemStyle:{borderColor:'rgba(120,120,120,.5)',borderWidth:.5},data:hData});
const fcIdx=series.length-1;
const fI=addGrid({left:720,top:488.3,width:25.3,height:527.3,show:true,borderColor:'#777',borderWidth:1},heatAxisX(['FC']),heatAxisY);
series.push({type:'heatmap',xAxisIndex:fI,yAxisIndex:fI,silent:true,progressive:0,itemStyle:{borderColor:'rgba(120,120,120,.4)',borderWidth:.5},data:expand(fcRuns).map((v,y)=>[0,y,v])});
const vmap={type:'continuous',show:false,seriesIndex:[fcIdx,fcIdx+1],min:-2.4,max:2.4,inRange:{color:['#25308a','#5a5fa8','#a5a5d5','#ffffff','#f5b5b5','#d86060','#cc1c26']}};
txt('FC',732,461,{align:'center',size:20});txt('DMSO',815.7,461,{align:'center',size:20.5});txt('CU-T12-9',925,461,{align:'center',size:21});
poly([[763,477.5],[867.7,477.5]],'#222',1.2);poly([[872.7,477.5],[977.3,477.5]],'#222',1.2);
txt('HALLMARK_MYC_TARGETS_V1',691,764,{align:'center',size:17.7,rot:1});
rect(720,1024,25.3,11.6,new echarts.graphic.LinearGradient(0,0,1,0,[{offset:0,color:'#2b3590'},{offset:.5,color:'#ffffff'},{offset:1,color:'#e8452c'}]),{stroke:'#777',lw:.8});
rect(797,1024,139.3,11.6,new echarts.graphic.LinearGradient(0,0,1,0,[{offset:0,color:'#2b3590'},{offset:.5,color:'#ffffff'},{offset:1,color:'#c8262b'}]),{stroke:'#777',lw:.8});
[['-2',711.7],['0',730.7],['+2',746.7],['-2',805.7],['0',869],['+2',926]].forEach(a=>txt(a[0],a[1],1045,{align:'center',size:17}));
txt('Z score',871.7,1067,{align:'center',size:17});txt('MYC-signal at promoter',872,1088.6,{align:'center',size:17});

/* ---------- F ---------- */
const NAVY='#2a3f9a',CRIM='#c8193a';
function track(x0,x1,span,base,h,data,color,stepped=true){
  const i=addGrid({left:x0,top:base-h,width:x1-x0,height:h},
   {min:0,max:span,splitLine:{show:false},axisTick:{show:false},axisLabel:{show:false},axisLine:{show:true,onZero:false,lineStyle:{color:'#8a8a8a',width:1.5}}},
   {min:0,max:h*3,splitLine:{show:false},axisTick:{show:false},axisLabel:{show:false},axisLine:{show:true,onZero:false,lineStyle:{color:'#666',width:1}}});
  series.push({type:'line',xAxisIndex:i,yAxisIndex:i,silent:true,symbol:'none',step:stepped?'end':false,clip:true,lineStyle:{color,width:.5},areaStyle:{color,opacity:1},data});}
function genes(x0,x1,span,row0,gap,data,chev){
  const i=addGrid({left:x0,top:row0-gap/2,width:x1-x0,height:gap*2},{min:0,max:span,show:false},{min:-.5,max:1.5,show:false,inverse:true});
  series.push({type:'custom',xAxisIndex:i,yAxisIndex:i,silent:true,clip:false,data,renderItem(p,api){
    const a=api.coord([api.value(0),api.value(2)]),b=api.coord([api.value(1),api.value(2)]),k=api.value(3),hh=[14,9,1][k];
    return {type:'rect',shape:{x:a[0],y:a[1]-hh/2,width:b[0]-a[0],height:hh},style:{fill:k===2?'#5b6cc0':'#2b3d97'}};}});
  series.push({type:'custom',xAxisIndex:i,yAxisIndex:i,silent:true,clip:false,data:chev,renderItem(p,api){
    const a=api.coord([api.value(0),api.value(1)]),d=api.value(2)*2;
    return {type:'polyline',shape:{points:[[a[0]-d,a[1]-3],[a[0]+d,a[1]],[a[0]-d,a[1]+3]]},style:{stroke:'#5b6cc0',lineWidth:.8,fill:null}};}});}
dot(1238.5,486,9.5,NAVY);dot(1378,486,9.5,CRIM);
txt('DMSO',1264.5,485,{size:23});txt('CUT-12-9',1402,485,{size:23});
txt('chr12:58,137,910-58,147,491',1593,531,{align:'right',size:17.7});
track(1149.5,1593.7,1163,584,39,mvMycDmso,NAVY);track(1149.5,1593.7,1163,625.3,41.3,mvMycCu,CRIM);
track(1149.5,1593.7,1163,679,39,mvAcDmso,NAVY,false);track(1149.5,1593.7,1163,720.3,41.3,mvAcCu,CRIM,false);
genes(1149.5,1593.7,1163,730,13.7,mvGenes,mvChev);
txt('[0 - 2.68]',1155.6,551,{size:17.5});txt('[0 - 13]',1155.6,654,{size:17.5});
txt('MYC',1096,579,{align:'center',size:23.8});txt('H3K27ac',1141.5,677,{align:'right',size:23.8});
txt('MV4;11',1606,631.7,{align:'center',size:23.8,rot:1});
txt('TSPAN31',1275,767,{align:'center',size:20});txt('CDK4',1503,747,{align:'center',size:20});
track(1151.8,1590.3,1148,875,46.7,helMycDmso,NAVY);track(1151.8,1590.3,1148,916,41,helMycCu,CRIM);
track(1151.8,1590.3,1148,965.7,36.4,helAcDmso,NAVY);track(1151.8,1590.3,1148,1007,41.3,helAcCu,CRIM);
genes(1151.8,1590.3,1148,1020.3,17.7,helGenes,helChev);
txt('[0 - 2.7]',1157.9,832,{size:17.5});txt('[0 - 1.94]',1157.9,936,{size:17.5});
txt('MYC',1096,877,{align:'center',size:23.8});txt('H3K27ac',1141.5,963,{align:'right',size:23.8});
txt('HEL',1606,931.7,{align:'center',size:23.8,rot:1});
txt('TSPAN31',1248,1057,{align:'center',size:20});txt('CDK4',1491.7,1044,{align:'center',size:20});

/* ---------- G ---------- */
const f1=v=>v.toFixed(1);
barPanel(88.4,267.9,1436.7,1179.3,-.4375,1.4,1.5,.5,f1,gGroups,[{val:cdk4Dmso,hi:cdk4DmsoHi,color:BLK},{val:cdk4Cu,hi:cdk4CuHi,color:RED}],.187,25,14,17,15);
barPanel(379.3,558.8,1434.3,1177,-.4375,1.4,1.5,.5,f1,gGroups,[{val:npm1Dmso,hi:npm1DmsoHi,color:BLK},{val:npm1Cu,hi:npm1CuHi,color:RED}],.187,25,14,17,15);
rect(157.7,1127.7,26.8,14.6,BLK);rect(287,1127.7,26,14.6,RED,{stroke:'#333',lw:1});
txt('DMSO',198.2,1134,{size:20});txt('CU-T12-9',327.2,1134,{size:20});
txt('Relative {i|CDK4} expression',27.5,1297.5,{align:'center',size:23,rot:1,rich:{i:{fontStyle:'italic',fontFamily:FONT,fontSize:23,fill:'#1a1a1a'}}});
txt('Relative {i|NPM1} expression',313.8,1295,{align:'center',size:23,rot:1,rich:{i:{fontStyle:'italic',fontFamily:FONT,fontSize:23,fill:'#1a1a1a'}}});
txt(gGroups[0],130,1457,{align:'center',size:20});txt(gGroups[1],231,1457,{align:'center',size:20});
txt(gGroups[0],419,1454,{align:'center',size:20});txt(gGroups[1],520.5,1454,{align:'center',size:20});
bracket(114,138.2,1202,1210,126.3,1193);bracket(409,433.2,1205.3,1213.3,421,1196.7);

/* ---------- H ---------- */
const hxT=[-1,-.5,0,.5,1,1.5],hyT=[.4,.6,.8,1];
const hP=addGrid({left:721.4,top:1173,width:394,height:261.3},
 {min:-1,max:1.543,splitLine:{show:false},axisLine:axisL,axisTick:{customValues:hxT,length:9,lineStyle:{color:'#222',width:1.5}},axisLabel:{customValues:hxT,color:'#1a1a1a',fontFamily:FONT,fontSize:17.5,margin:14,formatter:v=>''+v}},
 {min:.25,max:1,splitLine:{show:false},axisLine:axisL,axisTick:{customValues:hyT,length:9,lineStyle:{color:'#222',width:1.5}},axisLabel:{customValues:hyT,color:'#1a1a1a',fontFamily:FONT,fontSize:18,margin:12,formatter:v=>v.toFixed(1)}});
[[kqFit,kqMean,kqHi,kqLo,RED,3],[wtFit,wtMean,wtHi,wtLo,'#000',6]].forEach(s=>{
  series.push({type:'line',xAxisIndex:hP,yAxisIndex:hP,silent:true,symbol:'none',smooth:.3,z:s[5],lineStyle:{color:s[4],width:1.7},data:fitX.map((x,i)=>[x,s[0][i]])});
  errSeries(hP,doseX.map((x,i)=>[x,s[1][i],s[2][i],s[3][i]]),s[4],11,1.7,s[5]);
  series.push({type:'scatter',xAxisIndex:hP,yAxisIndex:hP,silent:true,symbolSize:11.5,z:s[5]+1,itemStyle:{color:s[4],opacity:1},data:doseX.map((x,i)=>[x,s[1][i]])});});
txt('Normalized cell viability',665.5,1309.8,{align:'center',size:22.7,rot:1});
txt('CU-T12-9 Log10(\u03BCM)',920.7,1486,{align:'center',size:23});
txt('MV4;11',743.8,1341.5,{size:20});
poly([[742,1371.7],[771.4,1371.7]],RED,1.6);dot(756.5,1371.7,5.5,RED);txt('MYC(K148Q)',783.4,1371,{size:20});
poly([[742,1402.7],[771.4,1402.7]],'#000',1.6);dot(756.5,1402.7,5.5,'#000');txt('WT',783.4,1402,{size:20});
poly([[1095,1255.3],[1100.7,1255.3],[1100.7,1332],[1095,1332]]);txt('*',1107,1299,{align:'center',size:20});

/* ---------- I ---------- */
const iP=barPanel(1287.3,1505.7,1437.3,1177.3,-.496,2.496,1.25,.25,v=>v.toFixed(2),iGroups,[{val:iWt,hi:iWtHi,color:BLK},{val:iKq,hi:iKqHi,color:RED}],.168,24,12.5,17.5,13);
xAxes[iP].axisTick={show:true,length:7,customValues:[0,1,2],lineStyle:{color:'#222',width:1.5}};
txt('Relative cell number',1211.7,1304.5,{align:'center',size:22.5,rot:1});
txt('MV4;11',1297.7,1178,{size:19.5});
rect(1449,1177.3,26.3,14.7,BLK);rect(1449,1204.7,26.3,14,RED,{stroke:'#333',lw:1});
txt('WT',1489.3,1183,{size:20});txt('MYC(K148Q)',1489.3,1210,{size:20});
txt(iGroups[0],1322.3,1456,{align:'center',size:21});txt(iGroups[1],1397,1456,{align:'center',size:21});txt(iGroups[2],1470.7,1456,{align:'center',size:21});
txt('CU-T12-9',1400,1484,{align:'center',size:23});
bracket(1384.3,1408.7,1194,1201.3,1396,1185);bracket(1458,1482.3,1262,1269.7,1469.7,1252.7);

/* ---------- render ---------- */
const chart=echarts.init(document.getElementById('c'),null,{renderer:'canvas',width:1619,height:1500});
chart.setOption({animation:false,backgroundColor:'#fff',textStyle:{fontFamily:FONT},tooltip:{show:false},
  grid:grids,xAxis:xAxes,yAxis:yAxes,series,visualMap:[vmap],graphic:{elements:gfx}});
</script></body></html>
